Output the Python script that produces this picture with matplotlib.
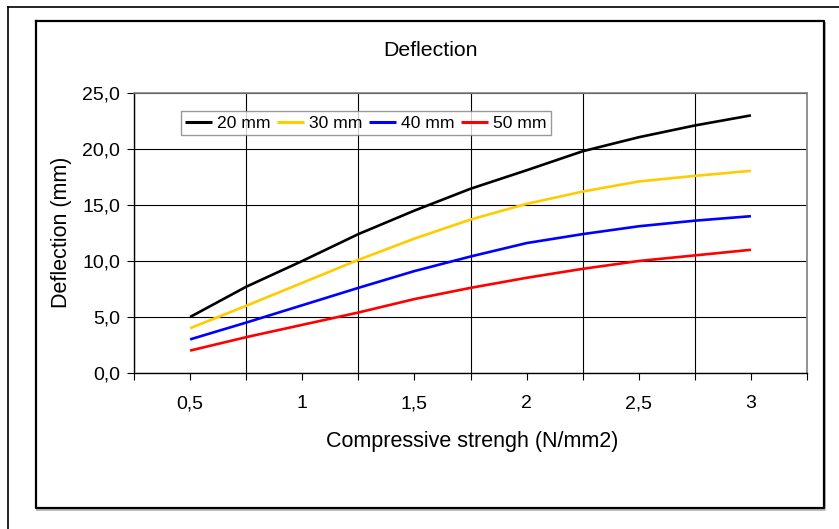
import matplotlib
matplotlib.use("Agg")
import matplotlib.pyplot as plt
from matplotlib.lines import Line2D
from matplotlib.ticker import FuncFormatter

plt.rcParams['font.family'] = ['Liberation Sans', 'DejaVu Sans']

strength = [0.5, 0.75, 1.0, 1.25, 1.5, 1.75, 2.0, 2.25, 2.5, 2.75, 3.0]
defl_20 = [5.0, 7.7, 10.0, 12.4, 14.5, 16.45, 18.1, 19.8, 21.05, 22.1, 23.0]
defl_30 = [4.0, 6.0, 8.05, 10.1, 12.0, 13.7, 15.1, 16.2, 17.1, 17.6, 18.05]
defl_40 = [3.0, 4.5, 6.05, 7.6, 9.1, 10.4, 11.6, 12.4, 13.1, 13.6, 14.0]
defl_50 = [2.0, 3.2, 4.3, 5.4, 6.6, 7.6, 8.5, 9.3, 10.0, 10.5, 11.0]

series = [('20 mm', defl_20, '#000000'),
          ('30 mm', defl_30, '#FFCC00'),
          ('40 mm', defl_40, '#0000FF'),
          ('50 mm', defl_50, '#FF0000')]

W, H = 839, 529
fig = plt.figure(figsize=(W / 100, H / 100), dpi=100)
fig.patch.set_facecolor('white')

# plot area in pixel coords: x 134..807, y 93..373
ax = fig.add_axes([134 / W, 1 - 373 / H, 673 / W, 280 / H])

for name, vals, col in series:
    ax.plot(strength, vals, color=col, lw=1.9, label=name, solid_capstyle='butt')

ax.set_xlim(0.25, 3.25)
ax.set_ylim(0, 25)
ax.set_yticks([0, 5, 10, 15, 20, 25])
ax.set_xticks([0.5, 1, 1.5, 2, 2.5, 3])
ax.set_xticks([0.25, 0.75, 1.25, 1.75, 2.25, 2.75, 3.25], minor=True)
ax.yaxis.set_major_formatter(FuncFormatter(lambda v, p: f"{v:.1f}".replace('.', ',')))
ax.xaxis.set_major_formatter(FuncFormatter(lambda v, p: f"{v:g}".replace('.', ',')))

ax.grid(True, axis='y', which='major', color='black', lw=0.8)
ax.grid(True, axis='x', which='minor', color='black', lw=0.8)
ax.set_axisbelow(True)

ax.tick_params(axis='both', which='both', direction='out', length=5, width=0.8, color='black')
ax.tick_params(axis='x', which='major', labelsize=14, pad=11)
ax.tick_params(axis='y', labelsize=14, pad=5)

for side in ['top', 'right']:
    ax.spines[side].set_color('#808080')
    ax.spines[side].set_linewidth(1.2)
for side in ['left', 'bottom']:
    ax.spines[side].set_color('black')
    ax.spines[side].set_linewidth(1.0)

leg = ax.legend(loc='upper left', bbox_to_anchor=(181 / W, 1 - 111 / H),
                bbox_transform=fig.transFigure, ncol=4, fontsize=12.6,
                frameon=True, fancybox=False, handlelength=1.5,
                handletextpad=0.3, columnspacing=0.4, borderpad=0.25,
                borderaxespad=0)
leg.get_frame().set_edgecolor('#808080')
leg.get_frame().set_linewidth(1.0)
for h in leg.get_lines():
    h.set_linewidth(2.2)

fig.text(430 / W, 1 - 56.5 / H, 'Deflection', ha='center', va='baseline', fontsize=15.3)
fig.text(472.5 / W, 1 - 447 / H, 'Compressive strengh (N/mm2)', ha='center',
         va='baseline', fontsize=15.5)
fig.text(61.5 / W, 1 - 232.5 / H, 'Deflection (mm)', ha='center', va='center',
         rotation=90, fontsize=15.5)

# outer and inner chart borders
def fline(xs, ys, **kw):
    fig.add_artist(Line2D([x / W for x in xs], [1 - y / H for y in ys],
                          transform=fig.transFigure, **kw))

fline([8, 8], [6.5, H], color='black', lw=1.2)
fline([8, W], [6.5, 6.5], color='black', lw=1.2)
fline([37, 825, 825], [510, 510, 23], color='#b0b0b0', lw=1.2)
fline([36, 823.5, 823.5, 36, 36], [21, 21, 508, 508, 21], color='black', lw=1.6)

fig.savefig('out.png', dpi=100, facecolor='white')
